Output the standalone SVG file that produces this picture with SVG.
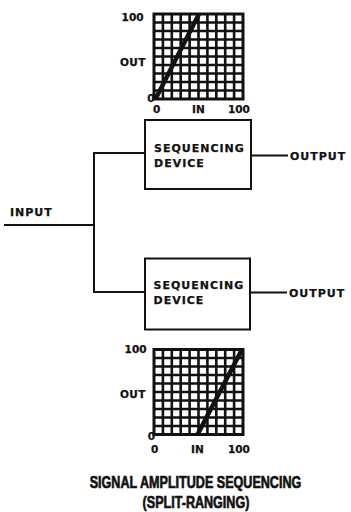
<svg xmlns="http://www.w3.org/2000/svg" width="351" height="512" viewBox="0 0 351 512">
  <style>
    .lbl { font-family: "DejaVu Sans", "Liberation Sans", sans-serif; font-weight: bold; font-size: 11px; fill: #111; stroke: #111; stroke-width: 0.25; letter-spacing: 1px; }
    .ax { font-family: "DejaVu Sans", "Liberation Sans", sans-serif; font-weight: bold; font-size: 10.5px; fill: #111; stroke: #111; stroke-width: 0.25; }
    .title { font-family: "Liberation Sans", "Arial", sans-serif; font-weight: bold; font-size: 17px; fill: #111; stroke: #111; stroke-width: 0.7; }
    .box { fill: #fff; stroke: #111; stroke-width: 2; }
    .wire { fill: none; stroke: #111; stroke-width: 2; }
    .grid { fill: none; stroke: #111; stroke-width: 2.6; }
    .frame { fill: #fff; stroke: #111; stroke-width: 3; }
    .diag { stroke: #111; stroke-width: 4.5; stroke-linecap: butt; }
  </style>
  <defs>
    <g id="gridcells">
      <rect class="frame" x="0" y="0" width="89" height="85"/>
      <path class="grid" d="M8.9 0V85M17.8 0V85M26.7 0V85M35.6 0V85M44.5 0V85M53.4 0V85M62.3 0V85M71.2 0V85M80.1 0V85M0 8.5H89M0 17H89M0 25.5H89M0 34H89M0 42.5H89M0 51H89M0 59.5H89M0 68H89M0 76.5H89"/>
    </g>
    <clipPath id="chartclip"><rect x="0" y="0" width="89" height="85"/></clipPath>
  </defs>

  <g id="chart-top">
    <g transform="translate(154,14)">
      <use href="#gridcells"/>
      <line class="diag" x1="1" y1="86" x2="45.5" y2="-1" clip-path="url(#chartclip)"/>
    </g>
    <text class="ax" x="143.5" y="21" text-anchor="end">100</text>
    <text class="ax" x="146" y="66" text-anchor="end" letter-spacing="0.5">OUT</text>
    <text class="ax" x="154.5" y="101.5" text-anchor="end">0</text>
    <text class="ax" x="153" y="112.5">0</text>
    <text class="ax" x="192" y="112.5">IN</text>
    <text class="ax" x="228" y="112.5">100</text>
  </g>

  <g id="chart-bottom">
    <g transform="translate(154,349.5)">
      <use href="#gridcells"/>
      <line class="diag" x1="43" y1="86" x2="88.5" y2="-1" clip-path="url(#chartclip)"/>
    </g>
    <text class="ax" x="146.5" y="353" text-anchor="end">100</text>
    <text class="ax" x="146" y="398" text-anchor="end" letter-spacing="0.5">OUT</text>
    <text class="ax" x="155" y="440" text-anchor="end">0</text>
    <text class="ax" x="151" y="453">0</text>
    <text class="ax" x="191" y="453">IN</text>
    <text class="ax" x="228" y="453">100</text>
  </g>

  <g id="connectors">
    <path class="wire" d="M4 225H94"/>
    <path class="wire" d="M94 153V292.5"/>
    <path class="wire" d="M93 153H145"/>
    <path class="wire" d="M93 292H145"/>
    <path class="wire" d="M251 155.5H288"/>
    <path class="wire" d="M250 292.5H287"/>
  </g>

  <g id="input">
    <text class="lbl" x="10" y="216">INPUT</text>
  </g>

  <g id="device-top">
    <rect class="box" x="145" y="120" width="106" height="69"/>
    <text class="lbl" x="154" y="152">SEQUENCING</text>
    <text class="lbl" x="154" y="167">DEVICE</text>
  </g>

  <g id="device-bottom">
    <rect class="box" x="145" y="258.5" width="105" height="71"/>
    <text class="lbl" x="153.5" y="289">SEQUENCING</text>
    <text class="lbl" x="153.5" y="304">DEVICE</text>
  </g>

  <g id="output-top">
    <text class="lbl" x="290" y="160">OUTPUT</text>
  </g>
  <g id="output-bottom">
    <text class="lbl" x="289" y="297">OUTPUT</text>
  </g>

  <g id="title">
    <text class="title" transform="translate(195.5,488) scale(0.74,1)" text-anchor="middle">SIGNAL AMPLITUDE SEQUENCING</text>
    <text class="title" transform="translate(196,508) scale(0.74,1)" text-anchor="middle">(SPLIT-RANGING)</text>
  </g>
</svg>
